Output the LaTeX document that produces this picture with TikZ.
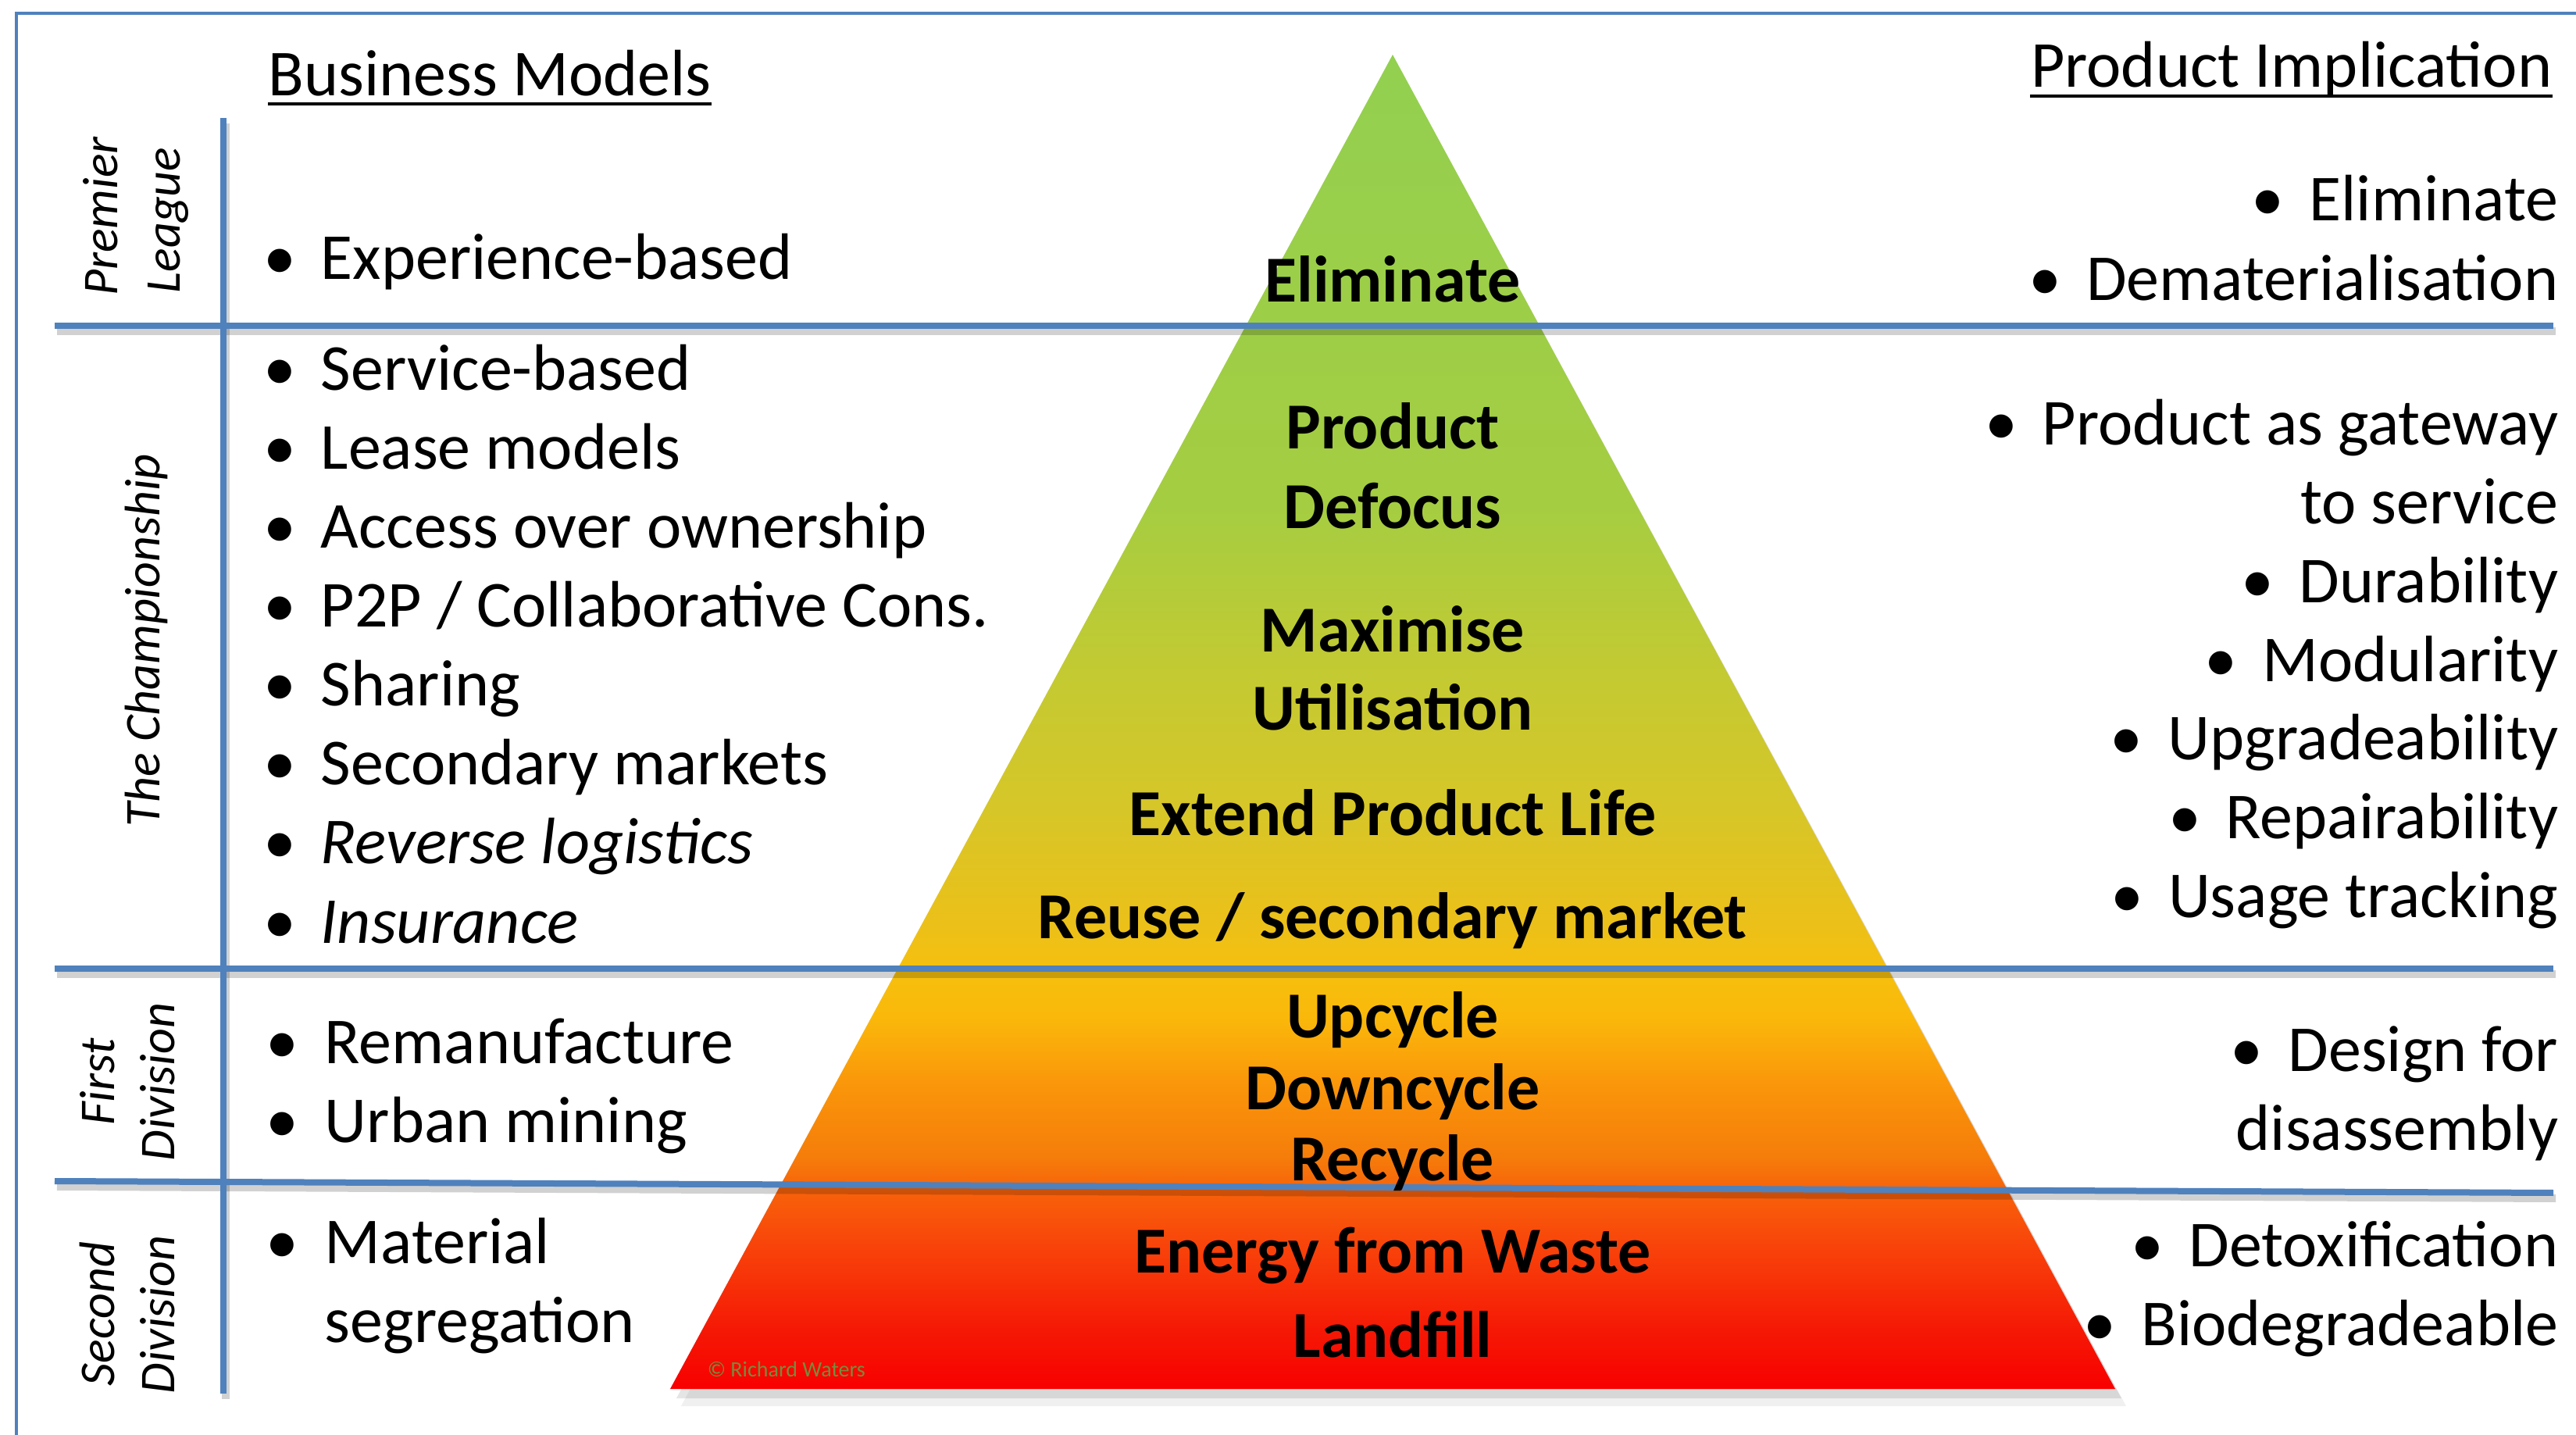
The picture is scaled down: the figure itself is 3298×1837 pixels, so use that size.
\documentclass[tikz,border=0pt]{standalone}
\usepackage{fontspec}
\setmainfont{Carlito}
\usetikzlibrary{calc}
\definecolor{lblue}{RGB}{79,129,189}
\definecolor{crcol}{RGB}{118,140,60}
\definecolor{pc0}{RGB}{248,0,0}
\definecolor{pc1}{RGB}{245,25,5}
\definecolor{pc2}{RGB}{248,65,10}
\definecolor{pc3}{RGB}{248,100,10}
\definecolor{pc4}{RGB}{245,125,10}
\definecolor{pc5}{RGB}{250,150,10}
\definecolor{pc6}{RGB}{250,185,10}
\definecolor{pc7}{RGB}{245,192,15}
\definecolor{pc8}{RGB}{235,192,25}
\definecolor{pc9}{RGB}{215,198,40}
\definecolor{pc10}{RGB}{195,202,50}
\definecolor{pc11}{RGB}{165,205,65}
\definecolor{pc12}{RGB}{146,208,80}
\pgfdeclareverticalshading{pyrshade}{100bp}{color(0bp)=(pc0); color(25bp)=(pc0); color(27.26bp)=(pc1); color(30.2bp)=(pc2); color(32.55bp)=(pc3); color(33.7bp)=(pc4); color(36.4bp)=(pc5); color(39bp)=(pc6); color(40.8bp)=(pc7); color(42.5bp)=(pc8); color(46.6bp)=(pc9); color(51.9bp)=(pc10); color(58.1bp)=(pc11); color(75bp)=(pc12); color(100bp)=(pc12)}
\newcommand{\bodyfont}{\fontsize{21pt}{25.25pt}\selectfont}
\newcommand{\sidefont}{\fontsize{16pt}{19.5pt}\selectfont\itshape}
\tikzset{
  txt/.style={inner sep=0pt, font=\bodyfont},
  ltxt/.style={txt, anchor=base west},
  rtxt/.style={txt, anchor=base east},
  ptxt/.style={inner sep=0pt, anchor=base, font=\bodyfont\bfseries},
  bul/.style={inner sep=0pt, anchor=base, font=\bodyfont},
  side/.style={inner sep=0pt, anchor=base, rotate=90, font=\sidefont},
  sep/.style={lblue, line width=2pt},
  sepshadow/.style={black, opacity=0.18, line width=2.5pt},
}
\begin{document}
\begin{tikzpicture}[x=0.25pt,y=-0.25pt]
\useasboundingbox (0,0) rectangle (3298,1837);
\clip (0,0) rectangle (3298,1837);
\fill[white] (0,0) rectangle (3298,1837);
% outer border
\draw[lblue, line width=1pt] (21,1900) -- (21,17) -- (3350,17);
% pyramid shadow and pyramid
\coordinate (apex) at (1783,70);
\coordinate (bl) at (858,1778);
\coordinate (br) at (2708,1778);
\fill[black, opacity=0.06] ($(apex)+(12,22)$) -- ($(br)+(14,22)$) -- ($(bl)+(14,22)$) -- cycle;
\fill[black, opacity=0.10] ($(apex)+(6,12)$) -- ($(br)+(8,12)$) -- ($(bl)+(8,12)$) -- cycle;
\shade[shading=pyrshade] (apex) -- (br) -- (bl) -- cycle;
% separator lines
\coordinate (l1a) at (70,417);  \coordinate (l1b) at (3269,417);
\coordinate (l2a) at (70,1240); \coordinate (l2b) at (3269,1240);
\coordinate (l3a) at (70,1512); \coordinate (l3b) at (3269,1527);
\coordinate (vt) at (286,151);  \coordinate (vb) at (286,1784);
\foreach \a/\b in {l1a/l1b,l2a/l2b,l3a/l3b,vt/vb}{
  \draw[sepshadow] ([shift={(3,7)}]\a) -- ([shift={(3,7)}]\b);
}
\draw[sep] (l1a) -- (l1b);
\draw[sep] (l2a) -- (l2b);
\draw[sep] (l3a) -- (l3b);
\draw[sep] (vt) -- (vb);
% headers
\node[ltxt] (hbm) at (343,123) {Business Models};
\draw[line width=1.1pt] ([yshift=-2.5pt]hbm.base west) -- ([yshift=-2.5pt]hbm.base east);
\node[rtxt] (hpi) at (3268,112) {Product Implication};
\draw[line width=1.1pt] ([yshift=-2.75pt]hpi.base west) -- ([yshift=-2.75pt]hpi.base east);
% side labels
\node[side] (s1a) at (150,277) {Premier};
\node[side] (s1b) at (230,282) {League};
\node[side] (s2) at (204,820) {The Championship};
\node[side] (s3a) at (146,1385) {First};
\node[side] (s3b) at (223,1385) {Division};
\node[side] (s4a) at (146,1682) {Second};
\node[side] (s4b) at (223,1683) {Division};
% left column
\node[bul] (lb1) at (358,358) {•};  \node[ltxt] (l1) at (410,358) {Experience-based};
\node[bul] (lb2) at (358,500) {•};  \node[ltxt] (l2) at (410,500) {Service-based};
\node[bul] (lb3) at (358,601) {•};  \node[ltxt] (l3) at (410,601) {Lease models};
\node[bul] (lb4) at (358,702) {•};  \node[ltxt] (l4) at (410,702) {Access over ownership};
\node[bul] (lb5) at (358,803) {•};  \node[ltxt] (l5) at (410,803) {P2P / Collaborative Cons.};
\node[bul] (lb6) at (358,904) {•};  \node[ltxt] (l6) at (410,904) {Sharing};
\node[bul] (lb7) at (358,1005) {•}; \node[ltxt] (l7) at (410,1005) {Secondary markets};
\node[bul] (lb8) at (358,1106) {•}; \node[ltxt] (l8) at (410,1106) {\itshape Reverse logistics};
\node[bul] (lb9) at (358,1207) {•}; \node[ltxt] (l9) at (410,1207) {\itshape Insurance};
\node[bul] (lb10) at (361,1361) {•}; \node[ltxt] (l10) at (415,1361) {Remanufacture};
\node[bul] (lb11) at (361,1462) {•}; \node[ltxt] (l11) at (415,1462) {Urban mining};
\node[bul] (lb12) at (361,1617) {•}; \node[ltxt] (l12) at (415,1617) {Material};
\node[ltxt] (l12b) at (415,1718) {segregation};
% right column
\node[rtxt] (r1) at (3276,283) {Eliminate};
\node[rtxt] (r2) at (3276,385) {Dematerialisation};
\node[rtxt] (r3) at (3276,570) {Product as gateway};
\node[rtxt] (r3b) at (3276,671) {to service};
\node[rtxt] (r4) at (3276,772) {Durability};
\node[rtxt] (r5) at (3276,873) {Modularity};
\node[rtxt] (r6) at (3276,973) {Upgradeability};
\node[rtxt] (r7) at (3276,1074) {Repairability};
\node[rtxt] (r8) at (3276,1175) {Usage tracking};
\node[rtxt] (r9) at (3276,1371) {Design for};
\node[rtxt] (r9b) at (3276,1472) {disassembly};
\node[rtxt] (r10) at (3276,1621) {Detoxification};
\node[rtxt] (r11) at (3276,1722) {Biodegradeable};
\foreach \n in {r1,r2,r3,r4,r5,r6,r7,r8,r9,r10,r11}{
  \node[bul] (b\n) at ([xshift=-13pt]\n.base west) {•};
}
% pyramid labels
\node[ptxt] (p1) at (1783,387) {Eliminate};
\node[ptxt] (p2a) at (1783,575) {Product};
\node[ptxt] (p2b) at (1783,677) {Defocus};
\node[ptxt] (p3a) at (1783,835) {Maximise};
\node[ptxt] (p3b) at (1783,935) {Utilisation};
\node[ptxt] (p4) at (1783,1070) {Extend Product Life};
\node[ptxt] (p5) at (1783,1202) {Reuse / secondary market};
\node[ptxt] (p6) at (1783,1328) {Upcycle};
\node[ptxt] (p7) at (1783,1420) {Downcycle};
\node[ptxt] (p8) at (1783,1511) {Recycle};
\node[ptxt] (p9) at (1783,1629) {Energy from Waste};
\node[ptxt] (p10) at (1783,1737) {Landfill};
\node[inner sep=0pt, anchor=base west, font=\fontsize{7pt}{8.5pt}\selectfont, text=crcol] (cr) at (905,1762) {© Richard Waters};
\end{tikzpicture}
\end{document}
